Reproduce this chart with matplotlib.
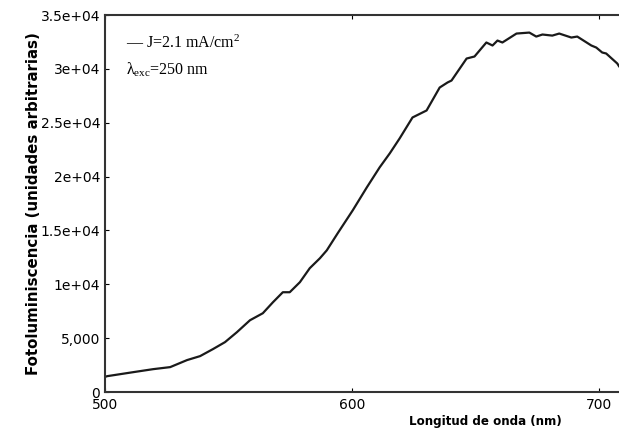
'''
Photoluminescence spectrum, J=2.1 mA/cm2, excitation at 250 nm
'''
import matplotlib
matplotlib.use('Agg')
import matplotlib.pyplot as plt
from matplotlib.ticker import FixedLocator, FixedFormatter

plt.rcParams['mathtext.fontset'] = 'custom'
plt.rcParams['mathtext.rm'] = 'Liberation Serif'
plt.rcParams['mathtext.it'] = 'Liberation Serif:italic'

# wavelength (nm) and intensity (arbitrary units)
wavelength = [500.0, 500.8, 511.3, 519.4, 526.3, 533.1, 538.4, 543.6, 548.5,
              553.3, 558.6, 563.8, 567.9, 571.9, 574.7, 578.8, 582.8, 586.9,
              589.7, 594.1, 600.2, 605.9, 611.1, 615.2, 619.2, 624.4, 630.1,
              635.4, 638.6, 640.2, 646.3, 649.5, 654.3, 656.8, 658.8, 660.8,
              666.5, 671.7, 674.5, 677.0, 681.0, 683.8, 688.7, 691.1, 696.8,
              698.8, 701.2, 702.8, 707.3, 708.0]
intensity = [1420, 1480, 1850, 2130, 2320, 2970, 3340, 3990, 4640,
             5560, 6670, 7320, 8340, 9270, 9270, 10200, 11500, 12420,
             13160, 14740, 16870, 19000, 20860, 22160, 23550, 25490, 26140,
             28270, 28740, 28920, 30960, 31150, 32450, 32170, 32630, 32450,
             33280, 33370, 33000, 33190, 33090, 33280, 32910, 33000, 32170,
             31980, 31520, 31430, 30500, 30250]

xticks = [500, 600, 700]
yticks = [0, 5000, 10000, 15000, 20000, 25000, 30000, 35000]
ytick_labels = ['0', '5,000', '1e+04', '1.5e+04', '2e+04', '2.5e+04',
                '3e+04', '3.5e+04']

fig = plt.figure(figsize=(6.19, 4.29), dpi=100)
ax = fig.add_axes([0.170, 0.086, 0.830, 0.879])

ax.plot(wavelength, intensity, color='#1a1a1a', lw=1.6)

ax.set_xlim(500, 708)
ax.set_ylim(0, 35000)
ax.xaxis.set_major_locator(FixedLocator(xticks))
ax.yaxis.set_major_locator(FixedLocator(yticks))
ax.yaxis.set_major_formatter(FixedFormatter(ytick_labels))
ax.tick_params(direction='in', length=3, labelsize=10, top=True)
ax.tick_params(axis='x', pad=4)

ax.spines['right'].set_visible(False)
for s in ['left', 'bottom', 'top']:
    ax.spines[s].set_color('#333333')
    ax.spines[s].set_linewidth(1.5)

ax.set_ylabel('Fotoluminiscencia (unidades arbitrarias)', fontsize=10.8,
              fontweight='bold')
ax.yaxis.set_label_coords(-0.125, 0.5)
ax.set_xlabel('Longitud de onda (nm)', fontsize=8.6, fontweight='bold')
ax.xaxis.set_label_coords(0.74, -0.062)

# legend-like annotation, in a serif face
ax.text(0.04, 0.925, '\u2014 J=2.1 mA/cm$^{2}$', transform=ax.transAxes,
        fontsize=11.5, family='Liberation Serif', va='center')
ax.text(0.04, 0.855, '\u03bb$_{\\mathrm{exc}}$=250 nm',
        transform=ax.transAxes, fontsize=11.5, family='Liberation Serif',
        va='center')

fig.savefig('out.png', dpi=100)
